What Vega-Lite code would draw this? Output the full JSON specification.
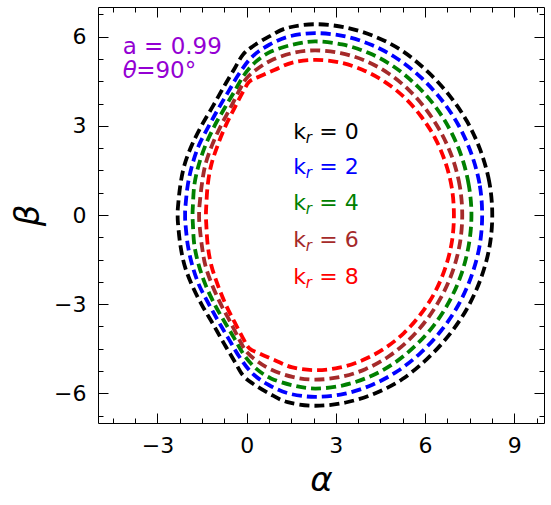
{
  "$schema": "https://vega.github.io/schema/vega-lite/v6.json",
  "width": 446,
  "height": 416,
  "autosize": {"type": "none"},
  "padding": {"left": 98, "top": 7, "right": 7, "bottom": 82},
  "background": "white",
  "config": {
    "font": "DejaVu Sans",
    "view": {"stroke": "#000000", "strokeWidth": 1},
    "axis": {"grid": false, "domain": false, "tickColor": "#000000", "tickWidth": 1, "labelColor": "#000000", "labelFontSize": 22, "labelFont": "DejaVu Sans", "titleColor": "#000000"}
  },
  "datasets": {
    "curves": [
      {"k":0,"i":0,"a":8.26,"b":0},{"k":0,"i":1,"a":8.16,"b":1.11},{"k":0,"i":2,"a":7.86,"b":2.18},{"k":0,"i":3,"a":7.40,"b":3.17},{"k":0,"i":4,"a":6.79,"b":4.06},{"k":0,"i":5,"a":6.07,"b":4.84},{"k":0,"i":6,"a":5.24,"b":5.52},{"k":0,"i":7,"a":4.33,"b":6.00},{"k":0,"i":8,"a":3.33,"b":6.31},{"k":0,"i":9,"a":2.30,"b":6.42},{"k":0,"i":10,"a":1.38,"b":6.30},{"k":0,"i":11,"a":0.76,"b":6.01},{"k":0,"i":12,"a":0.20,"b":5.67},{"k":0,"i":13,"a":-0.13,"b":5.39},{"k":0,"i":14,"a":-0.41,"b":4.92},{"k":0,"i":15,"a":-0.76,"b":4.33},{"k":0,"i":16,"a":-1.12,"b":3.69},{"k":0,"i":17,"a":-1.50,"b":3.04},{"k":0,"i":18,"a":-1.84,"b":2.36},{"k":0,"i":19,"a":-2.09,"b":1.69},{"k":0,"i":20,"a":-2.23,"b":1.01},{"k":0,"i":21,"a":-2.31,"b":0.28},{"k":0,"i":22,"a":-2.32,"b":0},{"k":0,"i":23,"a":-2.31,"b":-0.28},{"k":0,"i":24,"a":-2.23,"b":-1.01},{"k":0,"i":25,"a":-2.09,"b":-1.69},{"k":0,"i":26,"a":-1.84,"b":-2.36},{"k":0,"i":27,"a":-1.50,"b":-3.04},{"k":0,"i":28,"a":-1.12,"b":-3.69},{"k":0,"i":29,"a":-0.76,"b":-4.33},{"k":0,"i":30,"a":-0.41,"b":-4.92},{"k":0,"i":31,"a":-0.13,"b":-5.39},{"k":0,"i":32,"a":0.20,"b":-5.67},{"k":0,"i":33,"a":0.76,"b":-6.01},{"k":0,"i":34,"a":1.38,"b":-6.30},{"k":0,"i":35,"a":2.30,"b":-6.42},{"k":0,"i":36,"a":3.33,"b":-6.31},{"k":0,"i":37,"a":4.33,"b":-6.00},{"k":0,"i":38,"a":5.24,"b":-5.52},{"k":0,"i":39,"a":6.07,"b":-4.84},{"k":0,"i":40,"a":6.79,"b":-4.06},{"k":0,"i":41,"a":7.40,"b":-3.17},{"k":0,"i":42,"a":7.86,"b":-2.18},{"k":0,"i":43,"a":8.16,"b":-1.11},
      {"k":2,"i":0,"a":7.92,"b":0},{"k":2,"i":1,"a":7.83,"b":1.06},{"k":2,"i":2,"a":7.55,"b":2.08},{"k":2,"i":3,"a":7.12,"b":3.03},{"k":2,"i":4,"a":6.55,"b":3.88},{"k":2,"i":5,"a":5.86,"b":4.63},{"k":2,"i":6,"a":5.08,"b":5.25},{"k":2,"i":7,"a":4.21,"b":5.72},{"k":2,"i":8,"a":3.27,"b":6.02},{"k":2,"i":9,"a":2.30,"b":6.12},{"k":2,"i":10,"a":1.43,"b":6.01},{"k":2,"i":11,"a":0.76,"b":5.73},{"k":2,"i":12,"a":0.20,"b":5.34},{"k":2,"i":13,"a":-0.24,"b":4.78},{"k":2,"i":14,"a":-0.61,"b":4.16},{"k":2,"i":15,"a":-0.94,"b":3.60},{"k":2,"i":16,"a":-1.25,"b":3.04},{"k":2,"i":17,"a":-1.60,"b":2.36},{"k":2,"i":18,"a":-1.83,"b":1.69},{"k":2,"i":19,"a":-1.98,"b":1.01},{"k":2,"i":20,"a":-2.06,"b":0.28},{"k":2,"i":21,"a":-2.07,"b":0},{"k":2,"i":22,"a":-2.06,"b":-0.28},{"k":2,"i":23,"a":-1.98,"b":-1.01},{"k":2,"i":24,"a":-1.83,"b":-1.69},{"k":2,"i":25,"a":-1.60,"b":-2.36},{"k":2,"i":26,"a":-1.25,"b":-3.04},{"k":2,"i":27,"a":-0.94,"b":-3.60},{"k":2,"i":28,"a":-0.61,"b":-4.16},{"k":2,"i":29,"a":-0.24,"b":-4.78},{"k":2,"i":30,"a":0.20,"b":-5.34},{"k":2,"i":31,"a":0.76,"b":-5.73},{"k":2,"i":32,"a":1.43,"b":-6.01},{"k":2,"i":33,"a":2.30,"b":-6.12},{"k":2,"i":34,"a":3.27,"b":-6.02},{"k":2,"i":35,"a":4.21,"b":-5.72},{"k":2,"i":36,"a":5.08,"b":-5.25},{"k":2,"i":37,"a":5.86,"b":-4.63},{"k":2,"i":38,"a":6.55,"b":-3.88},{"k":2,"i":39,"a":7.12,"b":-3.03},{"k":2,"i":40,"a":7.55,"b":-2.08},{"k":2,"i":41,"a":7.83,"b":-1.06},
      {"k":4,"i":0,"a":7.56,"b":0},{"k":4,"i":1,"a":7.47,"b":1.01},{"k":4,"i":2,"a":7.22,"b":1.99},{"k":4,"i":3,"a":6.82,"b":2.90},{"k":4,"i":4,"a":6.29,"b":3.72},{"k":4,"i":5,"a":5.64,"b":4.43},{"k":4,"i":6,"a":4.91,"b":5.02},{"k":4,"i":7,"a":4.09,"b":5.46},{"k":4,"i":8,"a":3.21,"b":5.74},{"k":4,"i":9,"a":2.30,"b":5.84},{"k":4,"i":10,"a":1.54,"b":5.73},{"k":4,"i":11,"a":0.82,"b":5.50},{"k":4,"i":12,"a":0.32,"b":5.17},{"k":4,"i":13,"a":-0.08,"b":4.72},{"k":4,"i":14,"a":-0.41,"b":4.16},{"k":4,"i":15,"a":-0.74,"b":3.60},{"k":4,"i":16,"a":-1.06,"b":3.04},{"k":4,"i":17,"a":-1.38,"b":2.36},{"k":4,"i":18,"a":-1.61,"b":1.69},{"k":4,"i":19,"a":-1.76,"b":1.01},{"k":4,"i":20,"a":-1.81,"b":0.28},{"k":4,"i":21,"a":-1.82,"b":0},{"k":4,"i":22,"a":-1.81,"b":-0.28},{"k":4,"i":23,"a":-1.76,"b":-1.01},{"k":4,"i":24,"a":-1.61,"b":-1.69},{"k":4,"i":25,"a":-1.38,"b":-2.36},{"k":4,"i":26,"a":-1.06,"b":-3.04},{"k":4,"i":27,"a":-0.74,"b":-3.60},{"k":4,"i":28,"a":-0.41,"b":-4.16},{"k":4,"i":29,"a":-0.08,"b":-4.72},{"k":4,"i":30,"a":0.32,"b":-5.17},{"k":4,"i":31,"a":0.82,"b":-5.50},{"k":4,"i":32,"a":1.54,"b":-5.73},{"k":4,"i":33,"a":2.30,"b":-5.84},{"k":4,"i":34,"a":3.21,"b":-5.74},{"k":4,"i":35,"a":4.09,"b":-5.46},{"k":4,"i":36,"a":4.91,"b":-5.02},{"k":4,"i":37,"a":5.64,"b":-4.43},{"k":4,"i":38,"a":6.29,"b":-3.72},{"k":4,"i":39,"a":6.82,"b":-2.90},{"k":4,"i":40,"a":7.22,"b":-1.99},{"k":4,"i":41,"a":7.47,"b":-1.01},
      {"k":6,"i":0,"a":7.25,"b":0},{"k":6,"i":1,"a":7.17,"b":0.96},{"k":6,"i":2,"a":6.93,"b":1.89},{"k":6,"i":3,"a":6.55,"b":2.75},{"k":6,"i":4,"a":6.05,"b":3.53},{"k":6,"i":5,"a":5.45,"b":4.21},{"k":6,"i":6,"a":4.76,"b":4.77},{"k":6,"i":7,"a":3.99,"b":5.19},{"k":6,"i":8,"a":3.16,"b":5.45},{"k":6,"i":9,"a":2.30,"b":5.54},{"k":6,"i":10,"a":1.54,"b":5.45},{"k":6,"i":11,"a":0.82,"b":5.20},{"k":6,"i":12,"a":0.32,"b":4.89},{"k":6,"i":13,"a":-0.02,"b":4.58},{"k":6,"i":14,"a":-0.24,"b":4.21},{"k":6,"i":15,"a":-0.54,"b":3.62},{"k":6,"i":16,"a":-0.85,"b":3.04},{"k":6,"i":17,"a":-1.16,"b":2.36},{"k":6,"i":18,"a":-1.39,"b":1.69},{"k":6,"i":19,"a":-1.51,"b":1.01},{"k":6,"i":20,"a":-1.59,"b":0.28},{"k":6,"i":21,"a":-1.60,"b":0},{"k":6,"i":22,"a":-1.59,"b":-0.28},{"k":6,"i":23,"a":-1.51,"b":-1.01},{"k":6,"i":24,"a":-1.39,"b":-1.69},{"k":6,"i":25,"a":-1.16,"b":-2.36},{"k":6,"i":26,"a":-0.85,"b":-3.04},{"k":6,"i":27,"a":-0.54,"b":-3.62},{"k":6,"i":28,"a":-0.24,"b":-4.21},{"k":6,"i":29,"a":-0.02,"b":-4.58},{"k":6,"i":30,"a":0.32,"b":-4.89},{"k":6,"i":31,"a":0.82,"b":-5.20},{"k":6,"i":32,"a":1.54,"b":-5.45},{"k":6,"i":33,"a":2.30,"b":-5.54},{"k":6,"i":34,"a":3.16,"b":-5.45},{"k":6,"i":35,"a":3.99,"b":-5.19},{"k":6,"i":36,"a":4.76,"b":-4.77},{"k":6,"i":37,"a":5.45,"b":-4.21},{"k":6,"i":38,"a":6.05,"b":-3.53},{"k":6,"i":39,"a":6.55,"b":-2.75},{"k":6,"i":40,"a":6.93,"b":-1.89},{"k":6,"i":41,"a":7.17,"b":-0.96},
      {"k":8,"i":0,"a":6.97,"b":0},{"k":8,"i":1,"a":6.90,"b":0.91},{"k":8,"i":2,"a":6.68,"b":1.78},{"k":8,"i":3,"a":6.33,"b":2.60},{"k":8,"i":4,"a":5.85,"b":3.34},{"k":8,"i":5,"a":5.28,"b":3.98},{"k":8,"i":6,"a":4.62,"b":4.50},{"k":8,"i":7,"a":3.89,"b":4.89},{"k":8,"i":8,"a":3.11,"b":5.14},{"k":8,"i":9,"a":2.30,"b":5.22},{"k":8,"i":10,"a":1.54,"b":5.13},{"k":8,"i":11,"a":0.93,"b":4.88},{"k":8,"i":12,"a":0.43,"b":4.66},{"k":8,"i":13,"a":0.09,"b":4.49},{"k":8,"i":14,"a":-0.12,"b":4.15},{"k":8,"i":15,"a":-0.41,"b":3.60},{"k":8,"i":16,"a":-0.71,"b":3.00},{"k":8,"i":17,"a":-0.97,"b":2.36},{"k":8,"i":18,"a":-1.19,"b":1.69},{"k":8,"i":19,"a":-1.31,"b":1.01},{"k":8,"i":20,"a":-1.36,"b":0.28},{"k":8,"i":21,"a":-1.37,"b":0},{"k":8,"i":22,"a":-1.36,"b":-0.28},{"k":8,"i":23,"a":-1.31,"b":-1.01},{"k":8,"i":24,"a":-1.19,"b":-1.69},{"k":8,"i":25,"a":-0.97,"b":-2.36},{"k":8,"i":26,"a":-0.71,"b":-3.00},{"k":8,"i":27,"a":-0.41,"b":-3.60},{"k":8,"i":28,"a":-0.12,"b":-4.15},{"k":8,"i":29,"a":0.09,"b":-4.49},{"k":8,"i":30,"a":0.43,"b":-4.66},{"k":8,"i":31,"a":0.93,"b":-4.88},{"k":8,"i":32,"a":1.54,"b":-5.13},{"k":8,"i":33,"a":2.30,"b":-5.22},{"k":8,"i":34,"a":3.11,"b":-5.14},{"k":8,"i":35,"a":3.89,"b":-4.89},{"k":8,"i":36,"a":4.62,"b":-4.50},{"k":8,"i":37,"a":5.28,"b":-3.98},{"k":8,"i":38,"a":5.85,"b":-3.34},{"k":8,"i":39,"a":6.33,"b":-2.60},{"k":8,"i":40,"a":6.68,"b":-1.78},{"k":8,"i":41,"a":6.90,"b":-0.91}
    ],
    "labels": [
      {"k":0,"t":"= 0","a":1.57,"b":2.81},
      {"k":2,"t":"= 2","a":1.57,"b":1.63},
      {"k":4,"t":"= 4","a":1.57,"b":0.39},
      {"k":6,"t":"= 6","a":1.57,"b":-0.84},
      {"k":8,"t":"= 8","a":1.57,"b":-2.08}
    ],
    "notes": [
      {"t":"a = 0.99","a":-4.17,"b":5.67}
    ],
    "theta": [
      {"t":"θ","u":"=90°","a":-4.17,"b":4.83}
    ]
  },
  "layer": [
    {
      "data": {"name": "curves"},
      "mark": {"type": "line", "interpolate": "cardinal-closed", "strokeWidth": 3.8, "strokeDash": [10, 5]},
      "encoding": {
        "x": {"field": "a", "type": "quantitative", "scale": {"domain": [-5, 10], "nice": false, "zero": false},
          "axis": {"orient": "bottom", "title": "α", "titleFontSize": 34, "titleFontStyle": "italic", "titleFontWeight": "normal", "titlePadding": 7,
            "values": [-4.5,-3.75,-3,-2.25,-1.5,-0.75,0,0.75,1.5,2.25,3,3.75,4.5,5.25,6,6.75,7.5,8.25,9,9.75],
            "tickSize": {"condition": {"test": "abs(datum.value % 3) < 0.01", "value": -10}, "value": -5},
            "labelExpr": "abs(datum.value % 3) < 0.01 ? format(datum.value, 'd') : ''", "labelPadding": 22}},
        "y": {"field": "b", "type": "quantitative", "scale": {"domain": [-7, 7], "nice": false, "zero": false},
          "axis": {"orient": "left", "title": "β", "titleFontSize": 34, "titleFontStyle": "italic", "titleFontWeight": "normal", "titlePadding": 8,
            "values": [-6.75,-6,-5.25,-4.5,-3.75,-3,-2.25,-1.5,-0.75,0,0.75,1.5,2.25,3,3.75,4.5,5.25,6,6.75],
            "tickSize": {"condition": {"test": "abs(datum.value % 3) < 0.01", "value": -10}, "value": -5},
            "labelExpr": "abs(datum.value % 3) < 0.01 ? format(datum.value, 'd') : ''", "labelPadding": 22}},
        "color": {"field": "k", "type": "nominal", "scale": {"domain": [0, 2, 4, 6, 8], "range": ["#000000", "#0000ff", "#008000", "#a52a2a", "#ff0000"]}, "legend": null},
        "order": {"field": "i", "type": "quantitative"}
      }
    },
    {
      "data": {"name": "labels"},
      "mark": {"type": "text", "align": "left", "baseline": "middle", "fontSize": 22},
      "encoding": {
        "x": {"field": "a", "type": "quantitative",
          "axis": {"orient": "top", "title": null, "labels": false,
            "values": [-4.5,-3.75,-3,-2.25,-1.5,-0.75,0,0.75,1.5,2.25,3,3.75,4.5,5.25,6,6.75,7.5,8.25,9,9.75],
            "tickSize": {"condition": {"test": "abs(datum.value % 3) < 0.01", "value": -10}, "value": -5}}},
        "y": {"field": "b", "type": "quantitative",
          "axis": {"orient": "right", "title": null, "labels": false,
            "values": [-6.75,-6,-5.25,-4.5,-3.75,-3,-2.25,-1.5,-0.75,0,0.75,1.5,2.25,3,3.75,4.5,5.25,6,6.75],
            "tickSize": {"condition": {"test": "abs(datum.value % 3) < 0.01", "value": -10}, "value": -5}}},
        "text": {"value": "k"},
        "color": {"field": "k", "type": "nominal", "legend": null}
      }
    },
    {
      "data": {"name": "labels"},
      "mark": {"type": "text", "align": "left", "baseline": "middle", "fontSize": 15, "fontStyle": "italic", "dx": 12.5, "dy": 6},
      "encoding": {
        "x": {"field": "a", "type": "quantitative", "axis": null},
        "y": {"field": "b", "type": "quantitative", "axis": null},
        "text": {"value": "r"},
        "color": {"field": "k", "type": "nominal", "legend": null}
      }
    },
    {
      "data": {"name": "labels"},
      "mark": {"type": "text", "align": "left", "baseline": "middle", "fontSize": 22, "dx": 26},
      "encoding": {
        "x": {"field": "a", "type": "quantitative", "axis": null},
        "y": {"field": "b", "type": "quantitative", "axis": null},
        "text": {"field": "t"},
        "color": {"field": "k", "type": "nominal", "legend": null}
      }
    },
    {
      "data": {"name": "notes"},
      "mark": {"type": "text", "align": "left", "baseline": "middle", "fontSize": 23, "color": "#9400d3"},
      "encoding": {
        "x": {"field": "a", "type": "quantitative", "axis": null},
        "y": {"field": "b", "type": "quantitative", "axis": null},
        "text": {"field": "t"}
      }
    },
    {
      "data": {"name": "theta"},
      "mark": {"type": "text", "align": "left", "baseline": "middle", "fontSize": 23, "fontStyle": "italic", "color": "#9400d3"},
      "encoding": {
        "x": {"field": "a", "type": "quantitative", "axis": null},
        "y": {"field": "b", "type": "quantitative", "axis": null},
        "text": {"field": "t"}
      }
    },
    {
      "data": {"name": "theta"},
      "mark": {"type": "text", "align": "left", "baseline": "middle", "fontSize": 23, "dx": 13.5, "color": "#9400d3"},
      "encoding": {
        "x": {"field": "a", "type": "quantitative", "axis": null},
        "y": {"field": "b", "type": "quantitative", "axis": null},
        "text": {"field": "u"}
      }
    }
  ],
  "resolve": {"axis": {"x": "independent", "y": "independent"}}
}
